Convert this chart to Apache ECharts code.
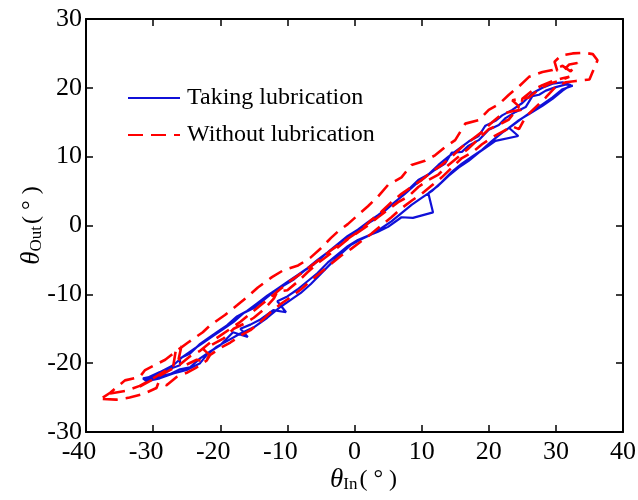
<!DOCTYPE html>
<html>
<head>
<meta charset="utf-8">
<script src="https://cdn.jsdelivr.net/npm/echarts@6/dist/echarts.min.js"></script>
<style>
html,body{margin:0;padding:0;background:#fff;}
#chart{width:638px;height:500px;}
</style>
</head>
<body>
<div id="chart"></div>
<script>
// Axis ranges and tick spacing
const xRange = [-40, 40];
const yRange = [-30, 30];
const tickStep = 10;

// Series names
const seriesNames = ['Taking lubrication', 'Without lubrication'];

// Taking lubrication (blue): [θIn, θOut]
const blueLoop1Up = [[-31.2,-22.4],[-29.5,-22.0],[-27.5,-21.6],[-26,-20.9],[-24.5,-20.6],[-23,-19.3],[-21.5,-18.3],[-20,-17.4],[-18.1,-15.5],[-15.9,-16.2],[-17,-15.0],[-15.5,-14.4],[-14.1,-13.7],[-12.1,-12.3],[-10.2,-12.6],[-11.5,-11.0],[-10,-10.3],[-8.5,-9.3],[-7,-8.1],[-5.5,-6.9],[-4,-5.4],[-2.5,-4.2],[-1,-3.0],[0.5,-2.1],[2,-1.5],[3.5,-0.9],[5,-0.2],[7,1.2],[8.7,1.1],[11.7,1.9],[11,4.7],[12.5,5.8],[14,7.2],[15.5,8.4],[17,9.4],[18.5,10.6],[20,11.6],[21,12.3],[24.4,13.0],[23,14.2],[24.5,15.3],[26,16.2],[28,17.4],[29.5,18.4],[31,19.6],[32.2,20.4]];
const blueLoop1Down = [[31,20.8],[29.5,20.6],[28,20.0],[26.5,19.2],[25,17.8],[23.5,16.8],[22,16.0],[21,15.2],[19.5,14.5],[18.5,13.0],[17,12.2],[15.5,11.1],[14,10.0],[12.5,8.8],[11,7.4],[9.5,6.6],[8,5.2],[6.5,3.8],[5,2.6],[3.5,1.5],[2,0.5],[0.5,-0.6],[-1,-1.5],[-2.5,-2.7],[-4,-3.9],[-5.5,-5.0],[-7,-6.2],[-8.5,-7.2],[-10,-8.2],[-11.5,-9.2],[-13,-10.2],[-14.5,-11.3],[-16,-12.4],[-17.5,-13.2],[-19,-14.5],[-20.5,-15.5],[-22,-16.5],[-23,-17.2],[-24.5,-18.6],[-26,-19.3],[-26,-20.3],[-28,-21.0],[-30,-21.9],[-31.5,-22.2]];
const blueLoop2Up = [[-31,-22.6],[-29,-22.2],[-27,-21.5],[-25,-21.0],[-23,-20.0],[-22,-18.8],[-20.5,-17.6],[-19,-16.8],[-17,-15.7],[-15,-14.8],[-13,-13.4],[-11,-11.8],[-9.5,-10.8],[-8,-9.8],[-6.5,-8.5],[-5,-7.0],[-3.5,-5.5],[-2,-4.1],[-0.5,-2.8],[1,-2.0],[2.5,-1.3],[4,-0.4],[5.5,0.6],[7,1.8],[8.5,3.0],[10,4.0],[11.5,5.0],[13,6.3],[14.5,7.8],[16,9.0],[17.5,10.0],[19,11.0],[20.5,12.3],[22,13.5],[23.5,14.5],[25,15.6],[26.5,16.6],[28,17.6],[29.5,18.6],[31,19.8],[32.5,20.3]];
const blueLoop2Down = [[31.5,20.5],[30,20.1],[28.5,19.6],[27.5,19.0],[26.5,18.8],[25.5,17.2],[24,16.5],[22.5,15.6],[21.5,14.6],[20,13.9],[18.5,12.4],[17,11.6],[16,10.7],[14.5,10.6],[13.5,9.0],[12,8.1],[10.5,7.0],[9,5.9],[7.5,4.6],[6,3.4],[4.5,2.1],[3,0.9],[1.5,0.0],[0,-1.0],[-1.5,-2.0],[-3,-3.2],[-4.5,-4.3],[-6,-5.6],[-7.5,-6.6],[-9,-7.8],[-10.5,-8.7],[-12,-9.6],[-13.5,-10.8],[-15,-12.0],[-16.5,-12.7],[-18,-14.0],[-19.5,-15.0],[-21,-16.0],[-22.5,-17.0],[-24,-18.0],[-25.5,-19.0],[-27,-20.3],[-29,-21.3],[-31,-22.2]];

// Without lubrication (red dashed): [θIn, θOut]
const redLoop1Up = [[-37.5,-25.2],[-35.5,-25.3],[-33.5,-25.0],[-31.5,-24.5],[-29.5,-23.6],[-29.2,-22.8],[-28,-23.2],[-26.5,-22.0],[-25,-21.4],[-23.5,-20.6],[-22,-19.6],[-21.5,-18.8],[-20,-17.8],[-18.5,-17.0],[-17,-16.0],[-15.5,-15.2],[-14,-14.0],[-12.5,-12.6],[-11,-11.4],[-9.5,-10.4],[-8,-9.3],[-6.5,-8.0],[-5,-6.8],[-3.5,-5.6],[-2,-4.4],[-0.5,-3.4],[1,-2.3],[2.5,-1.2],[4,0.0],[5.5,1.2],[7,2.5],[8.5,3.6],[10,4.6],[11.5,5.8],[13,7.0],[14.5,8.4],[16,9.8],[17.5,10.6],[19,11.8],[20.5,12.8],[22,13.6],[23.5,14.4],[24.5,14.0],[25.5,15.8],[27,17.2],[28.5,18.6],[30,20.2],[31.5,20.8],[33,21.0],[35,21.2]];
const redHook = [[36.2,24.0],[35.5,24.9],[34.2,25.1],[32.5,25.0],[30.8,24.7],[29.8,23.8],[30.2,22.5],[31,22.4],[32,23.4],[33.2,23.6],[32.2,22.4]];
const redLoop1Down = [[31,23.2],[29.5,22.6],[28,22.3],[26,21.6],[24.5,20.2],[23,19.0],[21.5,17.6],[20,16.8],[18.5,15.3],[16.5,14.8],[15,12.4],[13.5,11.4],[12,10.2],[10.5,9.4],[8.5,8.8],[7,7.0],[5,5.9],[3.5,4.2],[2,2.8],[0.5,1.5],[-1,0.2],[-2.5,-0.9],[-3.5,-1.8],[-5,-3.3],[-6.6,-4.7],[-8.4,-5.8],[-10.6,-6.5],[-12.3,-7.5],[-14.4,-9.0],[-16,-10.4],[-17.5,-11.6],[-19.3,-13.0],[-21.5,-14.5],[-22.6,-15.5],[-24.8,-17.0],[-26.5,-18.2],[-28.2,-19.5],[-31.2,-21.0],[-32,-22.0],[-34.2,-22.5],[-36.4,-24.3],[-37.5,-25.0]];
const redLoop2Up = [[-36.4,-24.4],[-34,-24.0],[-32,-23.3],[-30,-22.2],[-28.5,-21.3],[-27,-20.4],[-26.6,-18.0],[-25.8,-17.6],[-26.2,-19.4],[-25,-20.2],[-23.5,-19.5],[-22.2,-19.8],[-21.6,-18.8],[-22.5,-18.0],[-21,-17.2],[-19.5,-16.4],[-18,-15.0],[-16.5,-14.3],[-15,-13.4],[-13.5,-12.2],[-12,-10.6],[-11.5,-9.6],[-10,-9.4],[-8.5,-8.2],[-7,-6.8],[-5.5,-5.5],[-4,-4.4],[-2.5,-3.2],[-1,-2.0],[0.5,-1.0],[2,0.0],[3.5,1.2],[5,2.3],[6.5,3.4],[8,4.2],[9.5,5.6],[11,6.6],[12.5,7.4],[14,8.8],[15.5,10.0],[17,11.2],[18.5,12.6],[20,14.0],[21.5,14.6],[23,15.4],[24.5,17.3],[23.5,18.2],[26,18.6],[27.5,19.8],[29,20.6],[30.5,21.0],[32,21.6]];
const redLoop2Down = [[31,21.4],[29.5,21.0],[28,20.4],[26.5,19.6],[25,18.4],[24.8,16.8],[23.5,16.6],[22,16.2],[20.5,15.0],[19,13.6],[17.5,12.5],[16,11.4],[14.5,10.0],[13,8.8],[11.5,7.8],[10,6.6],[8.5,5.6],[7,4.6],[5.5,3.4],[4,2.0],[2.5,0.8],[1,-0.6],[-0.5,-1.6],[-2,-2.6],[-3.5,-3.6],[-5,-4.8],[-6.5,-5.9],[-8,-7.0],[-9.5,-8.0],[-11,-9.2],[-12.5,-10.4],[-14,-11.6],[-15.5,-12.8],[-17,-14.0],[-18.5,-15.0],[-20,-16.0],[-21.5,-17.0],[-23,-18.2],[-24.5,-19.0],[-26,-20.2],[-27.5,-21.0],[-29,-21.8],[-30.5,-22.6],[-32,-23.4]];

const blueData = [].concat(blueLoop1Up, blueLoop1Down, blueLoop2Up, blueLoop2Down);
const redData = [].concat(redLoop1Up, redHook, redLoop1Down, redLoop2Up, redLoop2Down);

const FONT = '"Liberation Serif", "Times New Roman", serif';

const chart = echarts.init(document.getElementById('chart'), null, {renderer: 'canvas'});

const baseAxisLine = {show: true, onZero: false, lineStyle: {color: '#000', width: 2}};
const tickInside = {show: true, inside: true, length: 7, lineStyle: {color: '#000', width: 1.5}};
const nameRich = {
  t: {fontFamily: FONT, fontSize: 27, fontStyle: 'italic', color: '#000'},
  s: {fontFamily: FONT, fontSize: 17, color: '#000', padding: [10, 2, 0, 0]},
  p: {fontFamily: FONT, fontSize: 24, color: '#000'}
};
const labelRich = {
  neg: {fontFamily: FONT, fontSize: 26, color: '#000', padding: [0, 14, 0, 0]},
  pos: {fontFamily: FONT, fontSize: 26, color: '#000'}
};

chart.setOption({
  animation: false,
  backgroundColor: '#fff',
  grid: {left: 86, right: 15, top: 19, bottom: 68, containLabel: false, outerBoundsMode: 'none'},
  legend: {
    orient: 'vertical',
    left: 127,
    top: 86,
    padding: 0,
    itemWidth: 52,
    itemHeight: 14,
    itemGap: 13,
    data: seriesNames,
    itemStyle: {color: 'rgba(0,0,0,0)', borderWidth: 0, opacity: 0},
    textStyle: {fontFamily: FONT, fontSize: 24, color: '#000', lineHeight: 23, padding: [0, 0, 0, 2]}
  },
  xAxis: [
    {
      type: 'value', position: 'bottom', min: xRange[0], max: xRange[1], interval: tickStep,
      axisLine: baseAxisLine, axisTick: tickInside, splitLine: {show: false},
      axisLabel: {
        fontFamily: FONT, fontSize: 26, color: '#000', margin: 7,
        formatter: v => (v < 0 ? '{neg|' + v + '}' : '{pos|' + v + '}'),
        rich: labelRich
      },
      name: '{t|θ}{s|In}{p|( ° )}',
      nameLocation: 'middle', nameGap: 34, nameMoveOverlap: false,
      nameTextStyle: {padding: [0, 0, 0, 18], rich: nameRich}
    },
    {
      type: 'value', position: 'top', min: xRange[0], max: xRange[1], interval: tickStep,
      axisLine: baseAxisLine, axisTick: tickInside, axisLabel: {show: false}, splitLine: {show: false}
    }
  ],
  yAxis: [
    {
      type: 'value', position: 'left', min: yRange[0], max: yRange[1], interval: tickStep,
      axisLine: baseAxisLine, axisTick: tickInside, splitLine: {show: false},
      axisLabel: {fontFamily: FONT, fontSize: 26, color: '#000', margin: 4},
      name: '{t|θ}{s|Out}{p|( ° )}',
      nameLocation: 'middle', nameGap: 41, nameRotate: 90, nameMoveOverlap: false,
      nameTextStyle: {rich: nameRich}
    },
    {
      type: 'value', position: 'right', min: yRange[0], max: yRange[1], interval: tickStep,
      axisLine: baseAxisLine, axisTick: tickInside, axisLabel: {show: false}, splitLine: {show: false}
    }
  ],
  series: [
    {
      name: seriesNames[0], type: 'line', data: blueData, symbol: 'none', smooth: false,
      lineStyle: {color: '#1010d8', width: 2.2},
      itemStyle: {color: '#1010d8'}, z: 3
    },
    {
      name: seriesNames[1], type: 'line', data: redData, symbol: 'none', smooth: false,
      lineStyle: {color: '#ff0000', width: 2.6, type: [15, 8]},
      itemStyle: {color: '#ff0000'}, z: 4
    }
  ]
});
</script>
</body>
</html>
